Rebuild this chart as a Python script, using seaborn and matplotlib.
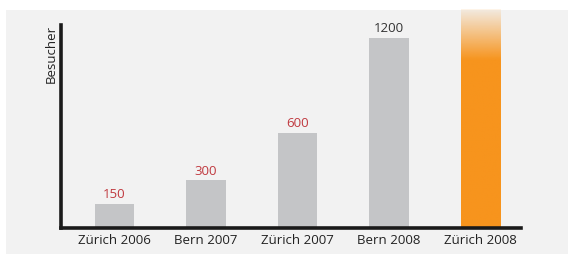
import matplotlib
matplotlib.use("Agg")
import matplotlib.pyplot as plt
import seaborn as sns
import numpy as np
import pandas as pd
from matplotlib.patches import Rectangle

categories = ["Zürich 2006", "Bern 2007", "Zürich 2007", "Bern 2008", "Zürich 2008"]
values = [150, 300, 600, 1200, 1377]
value_labels = ["150", "300", "600", "1200", ""]
ylabel = "Besucher"

sns.set_theme(style="white")
plt.rcParams["font.family"] = ["Open Sans", "DejaVu Sans"]

fig = plt.figure(figsize=(5.7, 2.62), dpi=100)
fig.patch.set_facecolor("white")
bg = Rectangle((6 / 570, 1 - 254 / 262), 562 / 570, 244 / 262,
               transform=fig.transFigure, facecolor="#f2f2f2",
               edgecolor="none", zorder=-10)
fig.add_artist(bg)
ax = fig.add_axes([61 / 570, 1 - 228 / 262, 460 / 570, 203 / 262])
ax.set_zorder(1)
ax.set_facecolor("none")

df = pd.DataFrame({"cat": categories, "val": values})
colors = ["#c4c5c7"] * 4 + ["#f7941d"]
sns.barplot(data=df, x="cat", y="val", hue="cat", palette=colors, legend=False,
            width=0.43, ax=ax, saturation=1, linewidth=0)

ax.set_xlim(-0.585, 4.44)
ax.set_ylim(0, 1282)

# fade top of last bar
last = ax.patches[-1]
last.set_clip_on(False)
x0 = last.get_x(); w = last.get_width(); h = last.get_height()
grad = np.ones((100, 1, 4))
base = np.array([0xf7, 0x94, 0x1d]) / 255
t = np.linspace(0, 1, 100)  # 0 bottom -> 1 top
solid = 1061 / h
alpha = np.where(t < solid, 1.0, 1 - (t - solid) / (1 - solid) * 0.9)
grad[:, 0, :3] = base
grad[:, 0, 3] = alpha
last.set_facecolor("none")
im = ax.imshow(grad, extent=[x0, x0 + w, 0, h], origin="lower", aspect="auto",
               zorder=2, clip_on=False, interpolation="bilinear")
im.set_clip_path(last)
ax.set_xlim(-0.585, 4.44)
ax.set_ylim(0, 1282)

for i, (v, lab) in enumerate(zip(values, value_labels)):
    if lab:
        col = "#333333" if v >= 1200 else "#c0393f"
        ax.text(i, v + 18, lab, ha="center", va="bottom", fontsize=9.5, color=col)

for s in ["top", "right"]:
    ax.spines[s].set_visible(False)
for s in ["left", "bottom"]:
    ax.spines[s].set_color("#1a1a1a")
    ax.spines[s].set_linewidth(2.6)
ax.set_yticks([])
ax.tick_params(axis="x", length=0, pad=4, labelsize=9.5, colors="#222222")
ax.set_xlabel("")
ax.set_ylabel(ylabel, fontsize=9.5, color="#222222", loc="top", labelpad=2)

fig.savefig("out.png", dpi=100, facecolor="white")
